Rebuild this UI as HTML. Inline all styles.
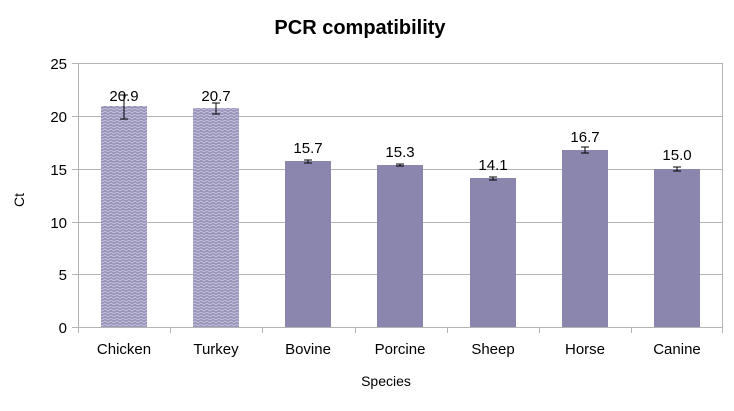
<!DOCTYPE html>
<html><head><style>body{margin:0;background:#fff}</style></head><body>
<svg width="734" height="406" xmlns="http://www.w3.org/2000/svg" font-family="Liberation Sans, sans-serif">
<defs>
<pattern id="p" width="6" height="6" patternUnits="userSpaceOnUse">
<rect width="6" height="6" fill="#9591b8"/>
<path d="M0 2 L3 0 L6 2 M0 5 L3 3 L6 5" stroke="#c8c5dd" stroke-width="1" fill="none"/>
</pattern>
</defs>
<text x="360" y="34" text-anchor="middle" font-size="20" font-weight="bold" fill="#000">PCR compatibility</text>
<g stroke="#b3b3b3" stroke-width="1">
<line x1="72" y1="63.5" x2="723" y2="63.5"/>
<line x1="72" y1="116.5" x2="723" y2="116.5"/>
<line x1="72" y1="169.5" x2="723" y2="169.5"/>
<line x1="72" y1="222.5" x2="723" y2="222.5"/>
<line x1="72" y1="274.5" x2="723" y2="274.5"/>
<line x1="72" y1="327.5" x2="723" y2="327.5"/>
<line x1="78.5" y1="63" x2="78.5" y2="333"/>
<line x1="722.5" y1="63" x2="722.5" y2="333"/>
<line x1="170.5" y1="327" x2="170.5" y2="333"/>
<line x1="262.5" y1="327" x2="262.5" y2="333"/>
<line x1="355.5" y1="327" x2="355.5" y2="333"/>
<line x1="447.5" y1="327" x2="447.5" y2="333"/>
<line x1="539.5" y1="327" x2="539.5" y2="333"/>
<line x1="631.5" y1="327" x2="631.5" y2="333"/>
</g>
<g font-size="15" text-anchor="end" fill="#000">
<text x="67" y="69">25</text><text x="67" y="122">20</text><text x="67" y="175">15</text>
<text x="67" y="228">10</text><text x="67" y="280">5</text><text x="67" y="333">0</text>
</g>
<rect x="101" y="106" width="46" height="221" fill="url(#p)"/>
<rect x="193" y="108" width="46" height="219" fill="url(#p)"/>
<g fill="#8b86ae">
<rect x="285" y="161" width="46" height="166"/>
<rect x="377" y="165" width="46" height="162"/>
<rect x="470" y="178" width="46" height="149"/>
<rect x="562" y="150" width="46" height="177"/>
<rect x="654" y="169" width="46" height="158"/>
</g>
<g stroke="#000" stroke-width="1" fill="none">
<path d="M124 95V119M120 95h8M120 119h8"/>
<path d="M216 103V114M212 103h8M212 114h8"/>
<path d="M308 160V163M304 160h8M304 163h8"/>
<path d="M400 164V166M396 164h8M396 166h8"/>
<path d="M493 177V180M489 177h8M489 180h8"/>
<path d="M585 147V153M581 147h8M581 153h8"/>
<path d="M677 167V171M673 167h8M673 171h8"/>
</g>
<g font-size="15" text-anchor="middle" fill="#000">
<text x="124" y="101">20.9</text><text x="216" y="101">20.7</text><text x="308" y="153">15.7</text>
<text x="400" y="157">15.3</text><text x="493" y="170">14.1</text><text x="585" y="142">16.7</text><text x="677" y="160">15.0</text>
</g>
<g font-size="15" text-anchor="middle" fill="#000">
<text x="124" y="354">Chicken</text><text x="216" y="354">Turkey</text><text x="308" y="354">Bovine</text>
<text x="400" y="354">Porcine</text><text x="493" y="354">Sheep</text><text x="585" y="354">Horse</text><text x="677" y="354">Canine</text>
<text x="386" y="386" font-size="14">Species</text>
</g>
<text transform="translate(24,200) rotate(-90)" font-size="14" text-anchor="middle" fill="#000">Ct</text>
</svg>
</body></html>
